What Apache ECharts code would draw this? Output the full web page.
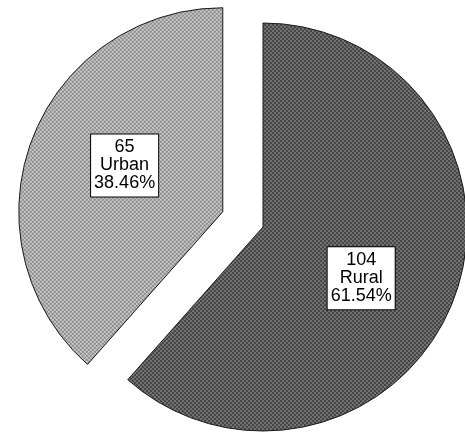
<!DOCTYPE html>
<html>
<head>
<meta charset="utf-8">
<script src="https://cdn.jsdelivr.net/npm/echarts@6/dist/echarts.min.js"></script>
<style>html,body{margin:0;padding:0;background:#fff;}#c{width:465px;height:437px;}</style>
</head>
<body>
<div id="c"></div>
<script>
var categories = ['Rural', 'Urban'];
var counts = [104, 65];
var percents = ['61.54%', '38.46%'];

function makePattern(bg, dot) {
  var cv = document.createElement('canvas');
  cv.width = 4; cv.height = 4;
  var ctx = cv.getContext('2d');
  ctx.fillStyle = bg; ctx.fillRect(0, 0, 4, 4);
  ctx.fillStyle = dot;
  ctx.fillRect(0, 0, 2, 2);
  ctx.fillRect(2, 2, 2, 2);
  return { image: cv, repeat: 'repeat' };
}
var fills = [makePattern('#717171', '#474747'), makePattern('#c8c8c8', '#8c8c8c')];

var chart = echarts.init(document.getElementById('c'));
var data = categories.map(function (name, i) {
  var st = { color: fills[i], borderColor: '#1a1a1a', borderWidth: 1 };
  return {
    name: name,
    value: counts[i],
    selected: i === 1,
    itemStyle: st,
    select: { itemStyle: st },
    label: { formatter: counts[i] + '\n' + name + '\n' + percents[i] }
  };
});
chart.setOption({
  animation: false,
  series: [{
    type: 'pie',
    center: [263, 227],
    radius: [0, 204],
    startAngle: 90,
    clockwise: true,
    selectedMode: 'single',
    selectedOffset: 43,
    emphasis: { disabled: true },
    label: {
      show: true,
      position: 'inside',
      fontFamily: 'Liberation Sans, Arial, sans-serif',
      fontSize: 18,
      lineHeight: 18,
      color: '#000',
      backgroundColor: '#fff',
      borderColor: '#000',
      borderWidth: 1,
      padding: [5, 3, 3, 3],
      align: 'center'
    },
    labelLine: { show: false },
    labelLayout: function (p) {
      return p.dataIndex === 0 ? { dy: 14 } : { dy: -9 };
    },
    data: data
  }]
});
</script>
</body>
</html>
